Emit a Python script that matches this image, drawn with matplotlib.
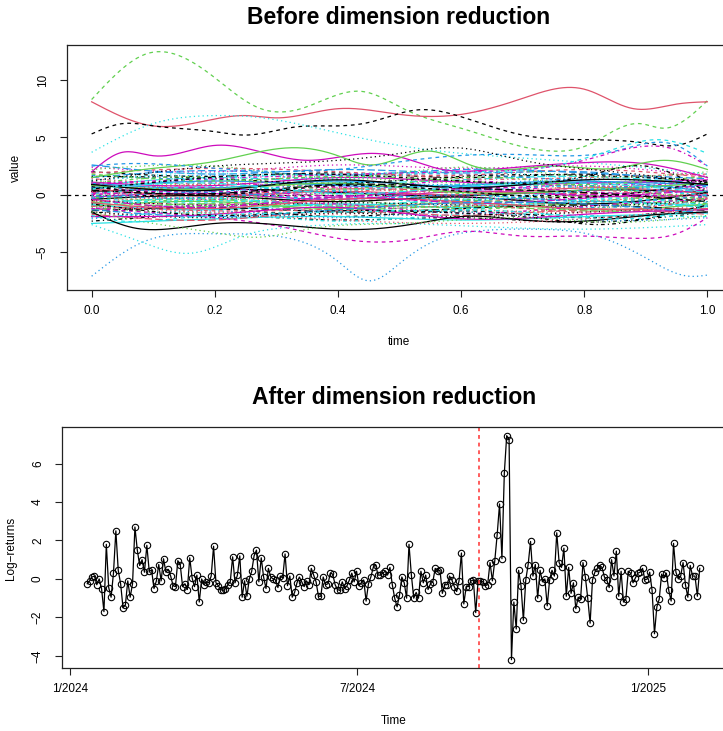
import numpy as np
import matplotlib
matplotlib.use("Agg")
import matplotlib.pyplot as plt
import matplotlib.dates as mdates

plt.rcParams["font.family"] = ["Liberation Sans", "DejaVu Sans"]

# ---------------- data: before dimension reduction (functional curves) ----------------
band_t = [0.0, 0.2, 0.4, 0.6, 0.8, 1.0]
band_curves = [
    [0.3, 0.5, 0.2, -0.1, 0.4, 0.2], [-0.5, -0.8, -0.3, -0.6, -0.2, -0.4],
    [1.2, 0.9, 1.4, 1.0, 0.8, 0.5], [-1.2, -1.0, -1.4, -0.9, -1.1, -0.7],
    [0.8, 1.5, 1.1, 1.3, 1.6, 0.9], [-0.2, 0.1, -0.4, 0.3, -0.1, 0.0],
    [2.0, 1.6, 1.9, 1.5, 1.8, 1.1], [-1.8, -1.5, -1.7, -1.3, -1.6, -0.9],
    [0.0, -0.3, 0.4, 0.1, -0.5, 0.3], [1.5, 2.1, 1.7, 2.2, 1.9, 1.4],
    [-0.9, -1.3, -0.8, -1.1, -0.6, -1.0], [0.6, 0.2, 0.7, 0.5, 0.9, 0.6],
    [-1.5, -2.0, -1.6, -1.9, -1.5, -1.2], [0.4, 0.8, 0.3, 0.9, 0.5, -0.2],
    [-0.7, -0.4, -1.0, -0.5, -0.9, -0.3], [1.0, 0.6, 1.2, 0.7, 1.1, 0.8],
    [-0.3, -0.7, -0.2, -0.8, -0.4, -0.6], [2.4, 2.0, 2.6, 2.3, 2.5, 1.6],
    [-2.3, -1.8, -2.2, -2.0, -2.4, -1.5], [0.2, 0.0, 0.5, 0.3, 0.1, 0.4],
    [-1.0, -0.6, -1.2, -0.7, -1.3, -0.8], [1.7, 1.3, 1.6, 1.8, 1.2, 1.0],
    [-0.1, 0.4, 0.0, -0.3, 0.2, -0.5], [0.9, 1.1, 0.6, 1.2, 0.7, 1.2],
    [-1.4, -1.1, -1.5, -1.2, -0.9, -1.4], [0.5, -0.1, 0.3, 0.0, 0.6, 0.1],
    [-0.6, -1.0, -0.5, -1.2, -0.7, -0.2], [1.3, 1.7, 1.3, 0.9, 1.4, 0.7],
    [-2.0, -1.6, -2.3, -1.7, -1.8, -1.9], [0.1, 0.6, -0.1, 0.5, 0.0, 0.9],
    [-0.4, -0.1, -0.6, -0.2, -0.8, 0.2], [1.9, 2.3, 2.0, 1.7, 2.2, 1.5],
    [-1.1, -1.6, -1.0, -1.5, -1.2, -0.6], [0.7, 0.3, 0.9, 0.4, 0.8, -0.1],
    [-0.8, -0.3, -0.9, -0.4, -0.5, -1.1], [1.1, 0.8, 1.5, 1.1, 1.0, 1.3],
    [-1.6, -1.2, -1.9, -1.4, -2.0, -1.0], [0.3, 0.9, 0.6, 0.2, 0.7, 0.5],
    [-0.2, -0.5, 0.1, -0.4, -0.1, -0.8], [2.6, 1.8, 2.2, 1.9, 2.0, 0.8],
    [-2.5, -2.1, -1.9, -2.2, -1.9, -1.6], [0.0, 0.3, -0.2, 0.6, 0.3, -0.3],
    [-0.5, -0.9, -0.7, -0.9, -1.0, -0.5], [1.4, 1.0, 1.8, 1.4, 1.5, 1.8],
    [-1.3, -0.8, -1.3, -1.0, -1.4, -1.3], [0.6, 1.2, 0.8, 0.8, 1.2, 0.3],
    [-0.9, -0.5, -1.1, -1.3, -0.3, -0.9], [0.2, -0.4, 0.2, -0.2, -0.3, 0.6],
    [1.6, 1.4, 1.0, 1.6, 1.7, 1.2], [-1.7, -2.2, -1.4, -1.8, -1.3, -1.7],
    [0.8, 0.5, 1.0, 0.2, 0.4, 1.0], [-0.3, 0.2, -0.4, 0.0, -0.6, -0.1],
    [1.2, 1.9, 1.4, 2.0, 1.3, 0.4], [-1.2, -0.9, -0.8, -1.6, -1.0, -0.4],
    [0.4, 0.1, 0.9, 0.6, 0.2, -0.6], [-0.7, -1.2, -0.4, -0.6, -1.2, -1.2],
    [1.8, 1.2, 1.6, 1.2, 0.9, 1.6], [-2.1, -1.4, -2.0, -1.5, -2.2, -2.0],
    [0.1, 0.7, 0.4, 0.9, 0.6, 0.0], [-0.4, -1.1, -0.2, -0.7, -0.3, 0.4],
    [0.9, 0.4, 1.3, 0.6, 1.3, 0.9], [-1.0, -1.4, -1.2, -0.8, -1.5, -0.3],
    [2.2, 2.5, 1.5, 2.4, 1.6, 2.0], [-0.1, -0.2, 0.3, -0.5, 0.4, 0.7],
    [0.5, 1.0, 0.1, 0.7, 1.0, 0.2], [-1.9, -1.7, -1.1, -2.1, -1.7, -1.3],
    [0.7, 0.0, 0.8, 0.3, -0.2, 1.1], [-0.6, -0.2, -0.9, -1.0, -0.6, 0.1],
    [1.0, 1.5, 0.5, 1.5, 0.8, -0.4], [-1.3, -1.9, -1.3, -0.7, -0.8, -1.6],
]

# outlying curves: (knot times, values, colour index, line type index)
outliers = [
    ([0, .09, .2, .27, .34, .44, .51, .6, .75, .8, .89, .93, 1.0],
     [8.3, 12.3, 10.2, 7.6, 7.5, 9.0, 7.4, 5.8, 3.8, 4.2, 6.2, 5.8, 8.2], 2, 1),
    ([0, .1, .2, .25, .3, .4, .5, .6, .7, .8, .88, .95, 1.0],
     [8.1, 6.0, 6.6, 6.9, 6.7, 7.5, 7.0, 7.0, 8.4, 9.2, 7.5, 7.9, 8.1], 1, 0),
    ([0, .05, .1, .2, .25, .33, .4, .45, .53, .6, .7, .8, .9, .95, 1.0],
     [5.3, 6.2, 6.0, 5.5, 5.2, 5.9, 6.0, 6.3, 7.4, 6.8, 5.2, 4.8, 4.5, 4.3, 5.3], 0, 1),
    ([0, .1, .2, .26, .35, .45, .55, .7, .85, 1.0],
     [3.7, 6.2, 6.9, 6.8, 6.0, 4.8, 3.9, 3.2, 2.6, 1.8], 4, 2),
    ([0, .05, .1, .2, .27, .35, .45, .5, .57, .65, .8, .9, 1.0],
     [2.0, 3.7, 3.4, 4.3, 3.8, 3.0, 3.6, 3.3, 2.2, 2.2, 2.8, 2.7, 1.5], 5, 0),
    ([0, .1, .2, .33, .4, .45, .55, .62, .75, .85, .93, 1.0],
     [1.5, 2.3, 2.9, 4.1, 3.4, 2.6, 3.8, 2.5, 2.5, 2.3, 3.0, 2.2], 2, 0),
    ([0, .05, .2, .4, .55, .7, .85, .95, 1.0],
     [2.5, 2.7, 2.3, 2.2, 3.2, 3.5, 3.8, 4.3, 2.5], 3, 1),
    ([0, .2, .4, .6, .75, .85, .92, 1.0],
     [0.5, 1.5, 1.8, 2.0, 2.5, 4.0, 4.8, 3.6], 4, 1),
    ([0, .2, .4, .5, .59, .7, .85, 1.0],
     [1.2, 2.5, 3.0, 3.6, 4.1, 3.0, 2.0, 1.0], 0, 2),
    ([0, .3, .6, .8, .95, 1.0],
     [1.0, 1.6, 2.0, 3.0, 3.9, 2.5], 5, 3),
    ([0, .3, .6, .8, .9, 1.0],
     [0.5, 1.8, 1.2, 1.6, 2.5, 0.2], 0, 3),
    ([0, .08, .2, .3, .4, .45, .5, .55, .62, .72, .82, .9, .97, 1.0],
     [-7.1, -4.2, -3.4, -3.6, -5.8, -7.5, -6.0, -4.2, -3.2, -3.0, -3.6, -5.5, -7.1, -7.0], 3, 2),
    ([0, .08, .16, .25, .33, .45, .6, .8, 1.0],
     [-2.6, -4.1, -5.1, -3.5, -2.8, -2.5, -2.7, -3.0, -2.6], 4, 2),
    ([0, .2, .3, .38, .45, .52, .6, .7, .8, .9, .95, 1.0],
     [-1.2, -2.0, -2.7, -3.6, -4.1, -3.9, -3.2, -3.6, -3.6, -3.8, -3.4, -2.0], 5, 1),
    ([0, .07, .12, .2, .3, .45, .55, .6, .7, .8, .9, 1.0],
     [-1.5, -2.9, -3.0, -2.5, -2.6, -3.0, -2.3, -1.9, -2.2, -2.3, -1.8, -1.5], 0, 0),
    ([0, .2, .4, .6, .75, .82, .9, 1.0],
     [-0.8, -1.8, -1.4, -1.6, -2.2, -2.6, -2.1, -0.9], 0, 3),
    ([0, .1, .2, .27, .35, .5, .7, .85, 1.0],
     [-1.5, -2.5, -3.3, -3.7, -3.0, -2.5, -2.0, -2.4, -1.8], 2, 2),
    ([0, .05, .15, .3, .5, .7, .9, 1.0],
     [-1.8, -2.3, -2.0, -1.6, -1.4, -1.5, -2.0, -1.0], 4, 1),
    ([0, .3, .6, .8, 1.0],
     [-1.0, -1.9, -2.5, -2.1, -1.2], 1, 2),
]

# ---------------- data: after dimension reduction (log-returns) ----------------
log_returns = [
    -0.25, -0.1, 0.1, 0.15, -0.3, 0.0, -0.5, -1.7, 1.8, -0.45, -0.95, 0.3, 2.5, 0.45,
    -0.25, -1.5, -1.35, -0.1, -0.95, -0.25, 2.7, 1.5, 0.7, 1.0, 0.35, 1.75, 0.4, 0.45,
    -0.5, -0.1, 0.75, -0.1, 1.05, 0.35, 0.5, 0.15, -0.35, -0.4, 0.95, 0.75, -0.4, -0.25,
    -0.55, 1.1, 0.05, -0.4, 0.2, -1.2, 0.0, -0.3, -0.15, -0.2, 0.15, 1.7, -0.2, -0.35,
    -0.55, -0.6, -0.5, -0.3, -0.15, 1.15, -0.2, 0.2, 1.2, -0.95, -0.1, -0.9, 0.0, 0.4,
    1.2, 1.5, -0.15, 1.1, 0.1, -0.5, 0.55, 0.1, 0.0, -0.05, -0.45, 0.15, 0.05, 1.3,
    -0.35, 0.15, -0.95, -0.7, -0.2, 0.1, -0.15, -0.4, -0.1, -0.3, 0.55, 0.2, -0.15,
    -0.9, -0.9, 0.1, -0.3, -0.25, 0.3, 0.25, -0.3, -0.55, -0.6, -0.15, -0.5, -0.35,
    -0.05, 0.3, -0.15, 0.4, -0.35, -0.2, -0.05, -1.15, -0.25, 0.1, 0.6, 0.75, 0.2, 0.2,
    0.3, 0.4, 0.2, 0.6, -0.3, -1.0, -1.45, -0.85, 0.1, -0.2, -1.0, 1.8, 0.2, -1.0,
    -0.7, -1.0, 0.4, -0.2, 0.2, -0.55, -0.25, -0.15, 0.55, 0.4, 0.45, -0.75, -0.3,
    -0.3, 0.15, -0.05, -0.4, -0.65, -0.1, 1.35, -1.3, -0.4, -0.4, -0.1, -0.05, -1.75,
    -0.1, -0.1, -0.15, -0.35, -0.3, 0.85, -0.1, 0.95, 2.3, 3.9, 1.05, 5.5, 7.45, 7.25,
    -4.2, -1.2, -2.6, 0.45, -0.35, -2.15, -0.05, 0.75, 1.95, 0.15, 0.75, -1.0, 0.45,
    -0.15, 0.0, -1.4, -0.05, 0.45, 0.15, 2.4, 0.85, 0.6, 1.6, -0.9, 0.6, -0.75, -0.2,
    -1.55, -0.95, -1.05, 0.85, 0.1, -1.0, -2.3, -0.05, 0.35, 0.55, 0.7, 0.6, 0.1,
    -0.05, -0.45, 1.0, 0.15, 1.45, -0.9, 0.4, -1.2, -1.05, 0.4, 0.3, -0.2, 0.05, 0.3,
    0.35, 0.55, -0.05, 0.0, 0.35, -0.6, -2.85, -1.45, -1.05, 0.25, 0.05, 0.3, -0.6,
    -1.15, 1.85, 0.35, 0.0, 0.15, 0.85, -0.3, -0.95, 0.7, 0.15, 0.15, -0.9, 0.55,
]
first_date = "2024-01-12"
last_date = "2025-02-03"
break_date = "2024-09-16"
date_ticks = ["2024-01-01", "2024-07-01", "2025-01-01"]
date_tick_labels = ["1/2024", "7/2024", "1/2025"]

# R default palette and line types
r_cols = ["#000000", "#DF536B", "#61D04F", "#2297E6", "#28E2E5", "#CD0BBC"]
r_lty = ["-", (0, (3, 3)), (0, (1, 2.5)), (0, (1, 2.5, 3, 2.5)), (0, (6, 2.5))]


def natural_spline(tk, vk, t):
    tk = np.asarray(tk, float)
    vk = np.asarray(vk, float)
    n = len(tk)
    h = np.diff(tk)
    A = np.zeros((n, n))
    rhs = np.zeros(n)
    A[0, 0] = A[-1, -1] = 1.0
    for i in range(1, n - 1):
        A[i, i - 1] = h[i - 1]
        A[i, i] = 2 * (h[i - 1] + h[i])
        A[i, i + 1] = h[i]
        rhs[i] = 3 * ((vk[i + 1] - vk[i]) / h[i] - (vk[i] - vk[i - 1]) / h[i - 1])
    c = np.linalg.solve(A, rhs)
    b = (vk[1:] - vk[:-1]) / h - h * (2 * c[:-1] + c[1:]) / 3
    d = (c[1:] - c[:-1]) / (3 * h)
    idx = np.clip(np.searchsorted(tk, t) - 1, 0, n - 2)
    dx = t - tk[idx]
    return vk[idx] + b[idx] * dx + c[idx] * dx ** 2 + d[idx] * dx ** 3


W, H = 723, 731
fig = plt.figure(figsize=(W / 100, H / 100), dpi=100)


def px_axes(left, top, right, bottom):
    return fig.add_axes([left / W, 1 - bottom / H, (right - left) / W, (bottom - top) / H])


def r_style(ax):
    for s in ax.spines.values():
        s.set_linewidth(0.9)
        s.set_color("#222222")
    ax.tick_params(direction="out", length=5, width=0.8, labelsize=8.5, color="#222222")
    ax.tick_params(axis="x", pad=6)
    ax.tick_params(axis="y", pad=8, labelrotation=90)
    for lbl in ax.get_yticklabels():
        lbl.set_va("center")


# ---------------- top panel ----------------
ax1 = px_axes(67, 45, 732, 290)
tt = np.linspace(0, 1, 300)
ax1.axhline(0, color="black", lw=0.9, ls=(0, (3, 3)), zorder=1)
for i, vals in enumerate(band_curves):
    ax1.plot(tt, natural_spline(band_t, vals, tt), color=r_cols[i % 6],
             ls=r_lty[i % 5], lw=0.9, zorder=2)
for tk, vk, ci, li in outliers:
    ax1.plot(tt, natural_spline(tk, vk, tt), color=r_cols[ci], ls=r_lty[li], lw=0.9, zorder=3)
ax1.set_xlim(-0.04, 1.04)
ax1.set_ylim(-8.3, 13.05)
ax1.set_xticks([0, 0.2, 0.4, 0.6, 0.8, 1.0])
ax1.set_xticklabels(["0.0", "0.2", "0.4", "0.6", "0.8", "1.0"])
ax1.set_yticks([-5, 0, 5, 10])
r_style(ax1)

fig.text(399 / W, 1 - 17 / H, "Before dimension reduction", ha="center", va="center",
         fontsize=16.5, fontweight="bold")
fig.text(399 / W, 1 - 342 / H, "time", ha="center", va="center", fontsize=8.5)
fig.text(16 / W, 1 - 168 / H, "value", ha="center", va="center", fontsize=8.5, rotation=90)

# ---------------- bottom panel ----------------
ax2 = px_axes(62, 427, 725, 668)
d0 = mdates.date2num(np.datetime64(first_date))
d1 = mdates.date2num(np.datetime64(last_date))
xd = np.linspace(d0, d1, len(log_returns))
ax2.plot(xd, log_returns, color="black", lw=0.9, marker="o", ms=4.6,
         mfc="none", mec="black", mew=0.8)
ax2.axvline(mdates.date2num(np.datetime64(break_date)), color="#FF3030", lw=1.1,
            ls=(0, (2.5, 2.5)))
ax2.set_xlim(mdates.date2num(np.datetime64("2023-12-27")),
             mdates.date2num(np.datetime64("2025-02-19")))
ax2.set_ylim(-4.63, 7.9)
ax2.set_xticks([mdates.date2num(np.datetime64(d)) for d in date_ticks])
ax2.set_xticklabels(date_tick_labels)
ax2.set_yticks([-4, -2, 0, 2, 4, 6])
r_style(ax2)

fig.text(394 / W, 1 - 397 / H, "After dimension reduction", ha="center", va="center",
         fontsize=16.5, fontweight="bold")
fig.text(394 / W, 1 - 721 / H, "Time", ha="center", va="center", fontsize=8.5)
fig.text(11 / W, 1 - 548 / H, "Log\u2212returns", ha="center", va="center", fontsize=8.5,
         rotation=90)

fig.savefig("out.png", dpi=100)
